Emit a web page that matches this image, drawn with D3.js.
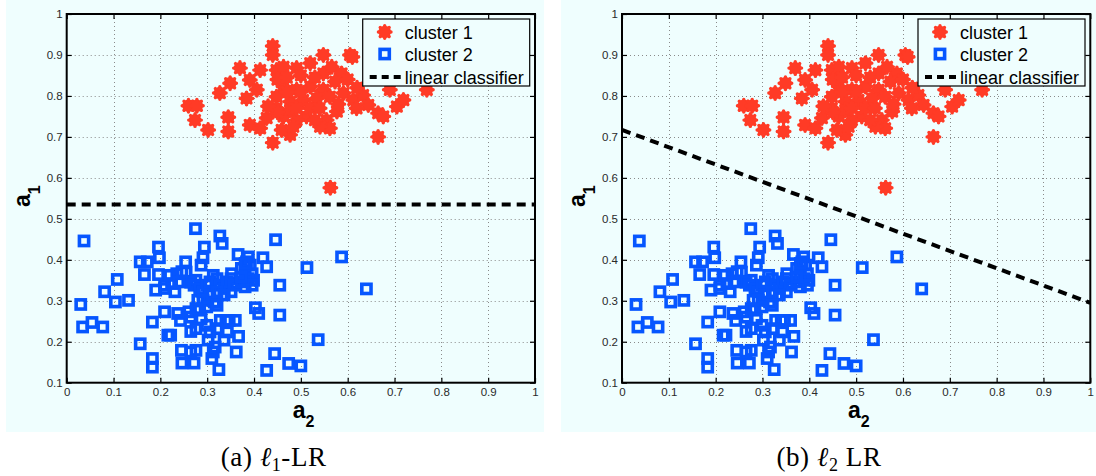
<!DOCTYPE html>
<html>
<head>
<meta charset="utf-8">
<script src="https://cdn.jsdelivr.net/npm/d3@7"></script>
<style>
  body { margin: 0; background: #ffffff; }
</style>
</head>
<body>
<svg id="fig" width="1096" height="476"></svg>
<script>
// cluster 1 samples: [a2, a1]
const cluster1 = [
  [0.44,0.922],[0.44,0.90],[0.548,0.90],[0.605,0.90],[0.61,0.895],[0.37,0.868],[0.413,0.863],
  [0.391,0.839],[0.349,0.831],[0.327,0.807],[0.26,0.776],[0.278,0.776],[0.274,0.741],
  [0.302,0.717],[0.345,0.748],[0.345,0.713],[0.384,0.794],[0.406,0.815],[0.391,0.729],
  [0.413,0.721],[0.427,0.746],[0.44,0.686],[0.477,0.705],[0.448,0.863],[0.463,0.871],
  [0.491,0.868],[0.52,0.88],[0.548,0.855],[0.566,0.871],[0.587,0.855],[0.573,0.835],
  [0.548,0.815],[0.52,0.823],[0.491,0.815],[0.463,0.823],[0.448,0.798],[0.477,0.786],
  [0.505,0.79],[0.534,0.794],[0.562,0.798],[0.591,0.807],[0.612,0.79],[0.633,0.802],
  [0.644,0.778],[0.619,0.77],[0.577,0.762],[0.555,0.741],[0.562,0.721],[0.541,0.725],
  [0.512,0.75],[0.491,0.741],[0.463,0.75],[0.477,0.766],[0.448,0.77],[0.459,0.717],
  [0.484,0.725],[0.53,0.741],[0.665,0.758],[0.676,0.75],[0.665,0.70],[0.705,0.774],
  [0.719,0.79],[0.69,0.815],[0.769,0.815],[0.45,0.84],[0.47,0.845],[0.50,0.85],
  [0.53,0.845],[0.50,0.81],[0.47,0.81],[0.52,0.77],[0.49,0.77],[0.45,0.76],[0.43,0.775],
  [0.60,0.84],[0.62,0.82],[0.58,0.78],[0.54,0.77],[0.563,0.576]
];

// cluster 2 samples: [a2, a1]
const cluster2 = [
  [0.037,0.446],[0.03,0.291],[0.034,0.236],[0.054,0.247],[0.077,0.236],[0.081,0.322],
  [0.108,0.352],[0.104,0.297],[0.132,0.301],[0.157,0.395],[0.172,0.395],[0.166,0.364],
  [0.157,0.195],[0.183,0.159],[0.183,0.138],[0.183,0.248],[0.19,0.326],[0.196,0.431],
  [0.198,0.405],[0.196,0.364],[0.209,0.273],[0.216,0.216],[0.222,0.216],[0.209,0.338],
  [0.224,0.342],[0.231,0.322],[0.235,0.366],[0.237,0.269],[0.245,0.179],[0.246,0.148],
  [0.243,0.252],[0.254,0.395],[0.255,0.37],[0.261,0.273],[0.265,0.225],[0.275,0.476],
  [0.272,0.148],[0.276,0.179],[0.276,0.35],[0.28,0.301],[0.284,0.277],[0.287,0.387],
  [0.291,0.405],[0.294,0.431],[0.299,0.24],[0.302,0.204],[0.31,0.159],[0.313,0.362],
  [0.315,0.297],[0.317,0.187],[0.325,0.132],[0.327,0.458],[0.332,0.44],[0.328,0.252],
  [0.336,0.204],[0.34,0.252],[0.347,0.252],[0.351,0.322],[0.352,0.366],[0.36,0.252],
  [0.362,0.175],[0.367,0.213],[0.366,0.413],[0.373,0.379],[0.381,0.334],[0.388,0.407],
  [0.396,0.366],[0.399,0.35],[0.403,0.283],[0.41,0.269],[0.419,0.405],[0.427,0.383],
  [0.427,0.13],[0.444,0.171],[0.446,0.449],[0.455,0.338],[0.455,0.265],[0.474,0.147],
  [0.50,0.141],[0.513,0.381],[0.537,0.205],[0.587,0.407],[0.64,0.329],
  [0.265,0.345],[0.272,0.338],[0.284,0.33],[0.291,0.322],[0.299,0.338],[0.306,0.346],
  [0.321,0.354],[0.328,0.338],[0.336,0.33],[0.343,0.346],[0.351,0.354],[0.358,0.338],
  [0.373,0.346],[0.381,0.362],[0.388,0.354],[0.392,0.387],[0.384,0.395],[0.396,0.338],
  [0.306,0.314],[0.321,0.322],[0.336,0.314],[0.291,0.301],[0.299,0.285],[0.276,0.281],
  [0.265,0.26],[0.287,0.256],[0.276,0.232],[0.321,0.232],[0.343,0.224],[0.306,0.224],
  [0.313,0.175],[0.265,0.175],[0.321,0.289],[0.381,0.391],[0.373,0.358],[0.209,0.33],
  [0.22,0.362],[0.239,0.346],[0.246,0.371]
];

// decision boundaries: [a2, a1] end points
const boundaryL1 = [[0, 0.535], [1, 0.535]];
const boundaryL2 = [[0, 0.717], [1, 0.295]];

const xTicks = [0, 0.1, 0.2, 0.3, 0.4, 0.5, 0.6, 0.7, 0.8, 0.9, 1];
const yTicks = [0.1, 0.2, 0.3, 0.4, 0.5, 0.6, 0.7, 0.8, 0.9, 1];
const legendLabels = ["cluster 1", "cluster 2", "linear classifier"];
const captions = [
  { tag: "(a) ", sym: "\u2113", sub: "1", rest: "-LR" },
  { tag: "(b) ", sym: "\u2113", sub: "2", rest: " LR" }
];

const SANS = "'Liberation Sans', Arial, Helvetica, sans-serif";
const SERIF = "'Liberation Serif', 'DejaVu Serif', 'Times New Roman', serif";
const svg = d3.select("#fig");
const BG = "#effefe";
const RED = "#ff3b26";
const BLUE = "#0656ff";

const panels = [
  { left: 66.7, bgX: 6, bgW: 538, boundary: boundaryL1, caption: captions[0] },
  { left: 622, bgX: 561, bgW: 535, boundary: boundaryL2, caption: captions[1] }
];
const plotW = 468.3, plotTop = 14, plotBottom = 382.7;
const SQ = 9.2, SQW = 3.6;

// asterisk marker: eight spokes around a solid core
const starPath = (() => {
  const r = 6.3;
  let d = "";
  for (let k = 0; k < 4; k++) {
    const a = k * Math.PI / 4;
    d += `M${(-r*Math.cos(a)).toFixed(2)},${(-r*Math.sin(a)).toFixed(2)}L${(r*Math.cos(a)).toFixed(2)},${(r*Math.sin(a)).toFixed(2)}`;
  }
  return d;
})();
function drawStar(sel) {
  sel.append("circle").attr("r", 6.2).attr("fill", RED);
  sel.append("path").attr("d", starPath).attr("stroke", RED).attr("stroke-width", 3.4)
    .attr("stroke-linecap", "round");
}

panels.forEach(p => {
  const g = svg.append("g");
  const x = d3.scaleLinear().domain([0, 1]).range([p.left, p.left + plotW]);
  const y = d3.scaleLinear().domain([0.1, 1]).range([plotBottom, plotTop]);

  // figure background
  g.append("rect").attr("x", p.bgX).attr("y", 0).attr("width", p.bgW).attr("height", 432)
    .attr("fill", BG);

  // dotted grid
  const grid = g.append("g").attr("stroke", "#8a8a8a").attr("stroke-width", 1)
    .attr("stroke-dasharray", "1,3");
  grid.selectAll(".gx").data(xTicks.slice(1, -1)).join("line")
    .attr("x1", d => Math.round(x(d)) + 0.5).attr("x2", d => Math.round(x(d)) + 0.5)
    .attr("y1", plotTop).attr("y2", plotBottom);
  grid.selectAll(".gy").data(yTicks.slice(1, -1)).join("line")
    .attr("y1", d => Math.round(y(d)) + 0.5).attr("y2", d => Math.round(y(d)) + 0.5)
    .attr("x1", p.left).attr("x2", p.left + plotW);

  // axes with inward ticks on all four sides
  const fmt = d => d === 0 || d === 1 ? String(d) : d3.format(".1f")(d);
  const axB = g.append("g").attr("transform", `translate(0,${plotBottom})`)
    .call(d3.axisBottom(x).tickValues(xTicks).tickFormat(fmt).tickSizeInner(-5).tickSizeOuter(0).tickPadding(5));
  const axL = g.append("g").attr("transform", `translate(${p.left},0)`)
    .call(d3.axisLeft(y).tickValues(yTicks).tickFormat(fmt).tickSizeInner(-5).tickSizeOuter(0).tickPadding(4));
  const axT = g.append("g").attr("transform", `translate(0,${plotTop})`)
    .call(d3.axisTop(x).tickValues(xTicks).tickFormat("").tickSizeInner(-5).tickSizeOuter(0));
  const axR = g.append("g").attr("transform", `translate(${p.left + plotW},0)`)
    .call(d3.axisRight(y).tickValues(yTicks).tickFormat("").tickSizeInner(-5).tickSizeOuter(0));
  [axB, axL, axT, axR].forEach(a => {
    a.select(".domain").remove();
    a.selectAll(".tick line").attr("stroke", "#000").attr("stroke-width", 1.2);
    a.selectAll(".tick text").attr("fill", "#2a2a2a").attr("font-size", 11.5)
      .style("font-family", SANS);
  });

  // boundary line
  g.append("path").datum(p.boundary)
    .attr("d", d3.line().x(d => x(d[0])).y(d => y(d[1])))
    .attr("fill", "none").attr("stroke", "#000").attr("stroke-width", 4)
    .attr("stroke-dasharray", "9,6");

  // cluster 2: open squares
  g.append("g").selectAll("rect").data(cluster2).join("rect")
    .attr("x", d => x(d[0]) - SQ / 2).attr("y", d => y(d[1]) - SQ / 2)
    .attr("width", SQ).attr("height", SQ)
    .attr("fill", "none").attr("stroke", BLUE).attr("stroke-width", SQW);

  // cluster 1: asterisks
  g.append("g").selectAll("g").data(cluster1).join("g")
    .attr("transform", d => `translate(${x(d[0])},${y(d[1])})`)
    .call(drawStar);

  // axes box
  g.append("rect").attr("x", p.left).attr("y", plotTop).attr("width", plotW)
    .attr("height", plotBottom - plotTop).attr("fill", "none").attr("stroke", "#000")
    .attr("stroke-width", 2);

  // legend
  const lx = p.left + 296, ly = 19;
  const lg = g.append("g");
  lg.append("rect").attr("x", lx).attr("y", ly).attr("width", 167).attr("height", 67)
    .attr("fill", BG).attr("stroke", "#000").attr("stroke-width", 1.2);
  const rows = [32, 54, 77];
  lg.append("g").attr("transform", `translate(${lx + 22},${rows[0]})`).call(drawStar);
  lg.append("rect").attr("x", lx + 22 - SQ / 2).attr("y", rows[1] - SQ / 2).attr("width", SQ)
    .attr("height", SQ).attr("fill", "none").attr("stroke", BLUE).attr("stroke-width", SQW);
  lg.append("line").attr("x1", lx + 7).attr("x2", lx + 38).attr("y1", rows[2]).attr("y2", rows[2])
    .attr("stroke", "#000").attr("stroke-width", 4).attr("stroke-dasharray", "7,5");
  lg.selectAll("text.lab").data(legendLabels).join("text")
    .attr("x", lx + 42).attr("y", (d, i) => rows[i] + 6.5)
    .attr("font-size", 18).attr("fill", "#000").style("font-family", SANS).text(d => d);

  // axis titles
  const xt = g.append("text").attr("x", p.left + 226).attr("y", 418)
    .attr("font-size", 23).attr("font-weight", "bold").attr("fill", "#000")
    .style("font-family", SANS);
  xt.append("tspan").text("a");
  xt.append("tspan").attr("dy", 9).attr("font-size", 16).text("2");
  const yt = g.append("text").attr("transform", `translate(${p.left - 37},207) rotate(-90)`)
    .attr("font-size", 23).attr("font-weight", "bold").attr("fill", "#000")
    .style("font-family", SANS);
  yt.append("tspan").text("a");
  yt.append("tspan").attr("dy", 10).attr("font-size", 16).text("1");

  // caption
  const c = p.caption;
  const ct = g.append("text").attr("x", p.left + 207).attr("y", 466)
    .attr("text-anchor", "middle").attr("font-size", 27).attr("fill", "#000")
    .attr("letter-spacing", 0.6).style("font-family", SERIF);
  ct.append("tspan").text(c.tag);
  ct.append("tspan").attr("font-style", "italic").text(c.sym);
  ct.append("tspan").attr("dy", 5).attr("font-size", 18).text(c.sub);
  ct.append("tspan").attr("dy", -5).text(c.rest);
});
</script>
</body>
</html>
